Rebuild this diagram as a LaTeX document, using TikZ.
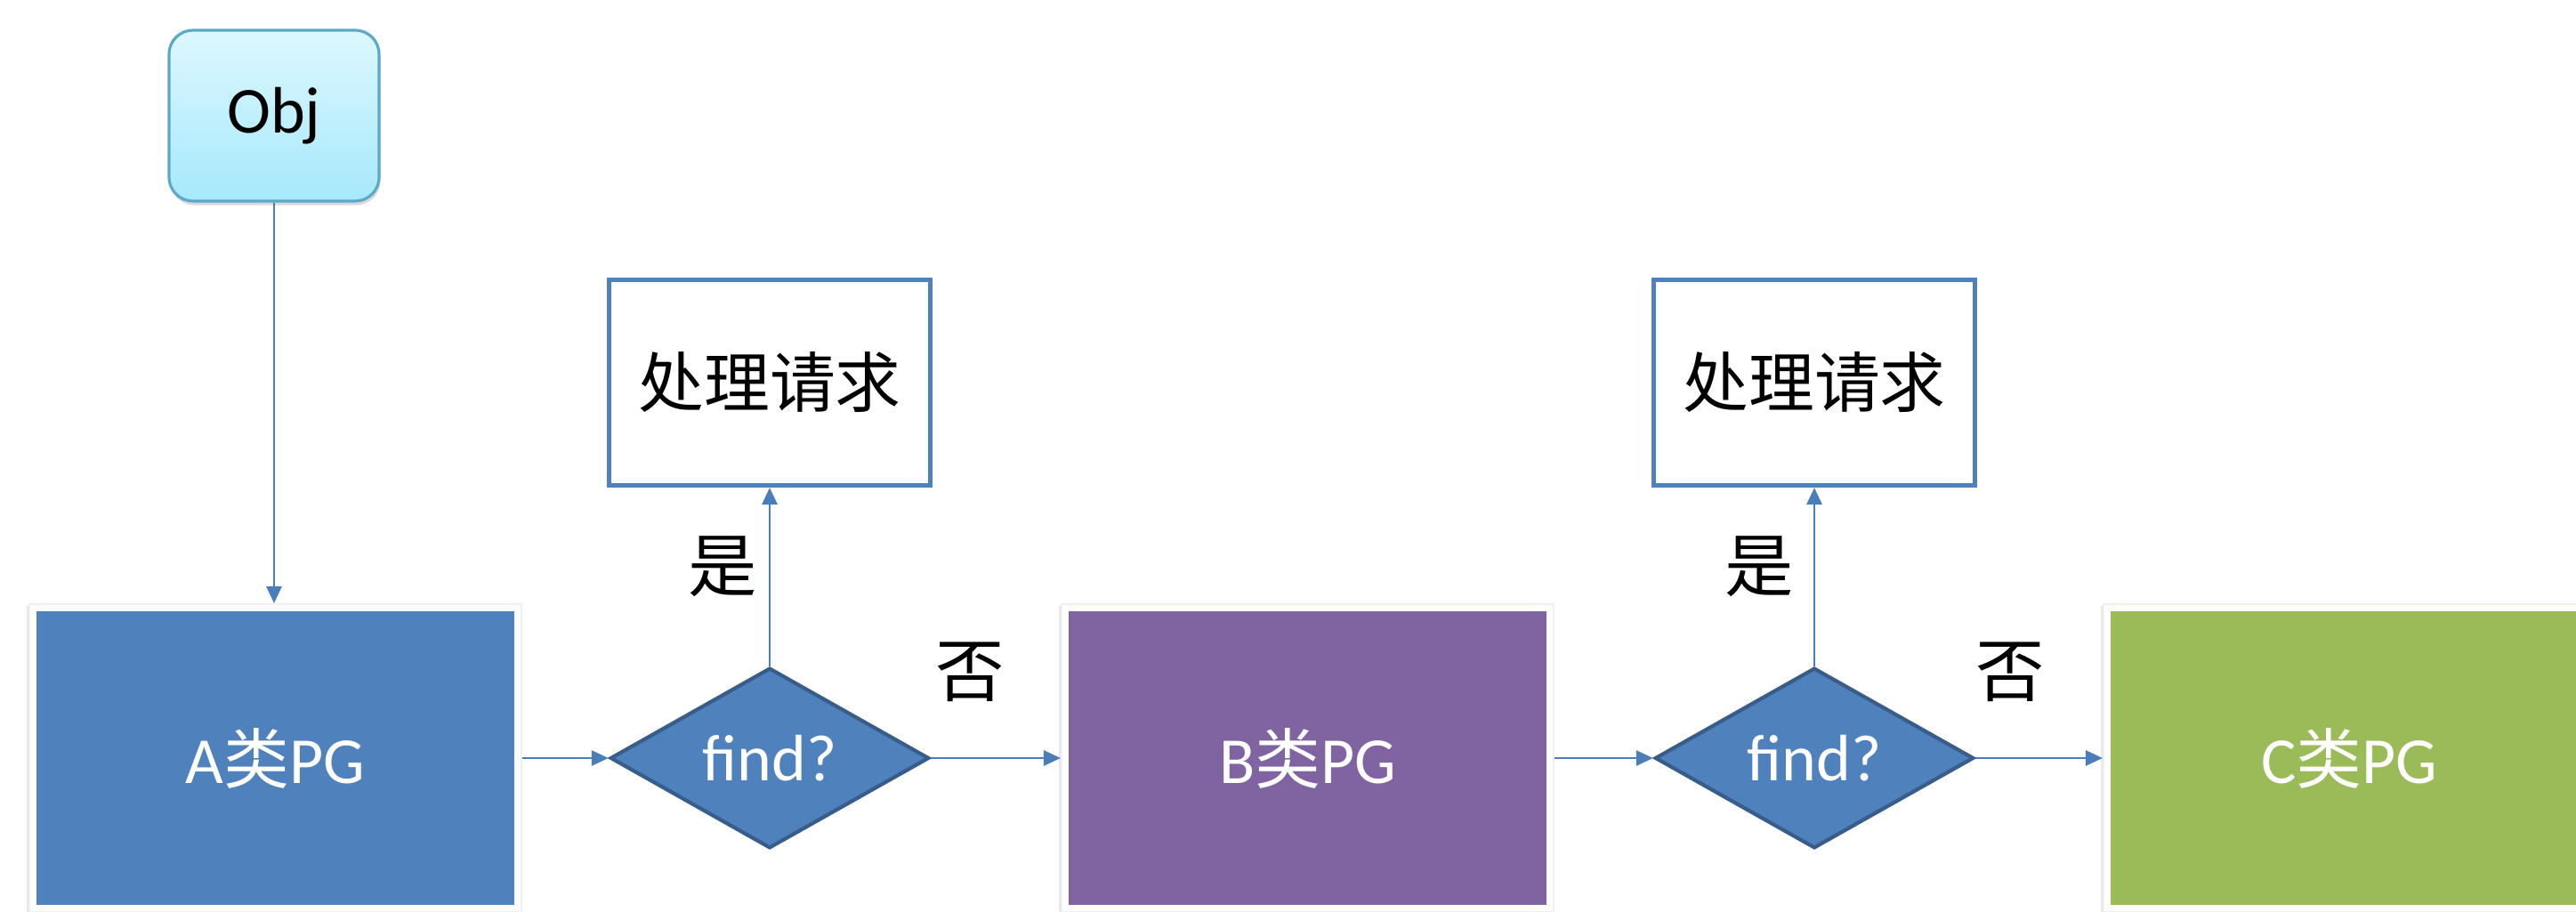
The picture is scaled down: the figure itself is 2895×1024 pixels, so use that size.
\documentclass[tikz,border=0pt]{standalone}
\usepackage{fontspec}
\setmainfont{Carlito}
\newfontfamily\cjk{Noto Sans CJK SC}
\usetikzlibrary{arrows.meta,shapes.geometric,shadows}
\definecolor{ablue}{HTML}{4F81BD}
\definecolor{bpurple}{HTML}{8064A2}
\definecolor{cgreen}{HTML}{9BBB59}
\definecolor{dborder}{HTML}{385D8A}
\definecolor{lineblue}{HTML}{4A7EBB}
\definecolor{objtop}{HTML}{DDF7FE}
\definecolor{objbot}{HTML}{A6E9FC}
\definecolor{objborder}{HTML}{5AA9C9}
\begin{document}
\begin{tikzpicture}[x=0.01cm,y=-0.01cm,
  objbox/.style={rectangle, rounded corners=0.27cm, top color=objtop, bottom color=objbot,
    draw=objborder, line width=0.9pt, minimum width=2.36cm, minimum height=1.92cm, inner sep=0,
    font=\fontsize{21}{25}\selectfont,
    drop shadow={shadow xshift=0.015cm, shadow yshift=-0.045cm, opacity=0.3}},
  pgframe/.style={rectangle, fill=white, draw=black!6, line width=0.5pt,
    minimum width=5.53cm, minimum height=3.46cm, inner sep=0,
    drop shadow={shadow xshift=-0.025cm, shadow yshift=-0.02cm, opacity=0.18}},
  pgfill/.style={rectangle, fill=#1, draw=none, minimum width=5.37cm, minimum height=3.30cm,
    inner sep=0, text=white, font=\fontsize{21}{25}\selectfont},
  decision/.style={diamond, fill=ablue, draw=dborder, line width=1.2pt, minimum width=3.58cm,
    minimum height=1.92cm, inner sep=0, text=white, font=\fontsize{21}{25}\selectfont},
  procbox/.style={rectangle, fill=white, draw=ablue, line width=1.4pt, minimum width=3.6cm,
    minimum height=2.31cm, inner sep=0, font=\cjk\fontsize{21}{25}\selectfont},
  lbl/.style={inner sep=0, font=\cjk\fontsize{22}{26}\selectfont},
  conn/.style={draw=lineblue, line width=0.8pt, -{Triangle[length=0.19cm,width=0.17cm]}}]
\useasboundingbox (0,0) rectangle (2895,1024);

% Obj
\node[objbox] (obj) at (308,130) {Obj};

% PG frames
\node[pgframe] (Af) at (309.5,852) {};
\node[pgfill=ablue] (A) at (309.5,852) {A{\cjk 类}PG};
\node[pgframe] (Bf) at (1469.5,852) {};
\node[pgfill=bpurple] (B) at (1469.5,852) {B{\cjk 类}PG};
\node[pgframe] (Cf) at (2640.5,852) {};
\node[pgfill=cgreen] (C) at (2640.5,852) {C{\cjk 类}PG};

% decisions
\node[decision] (d1) at (865,852) {find?};
\node[decision] (d2) at (2039,852) {find?};

% process boxes
\node[procbox] (p1) at (865,430) {处理请求};
\node[procbox] (p2) at (2039,430) {处理请求};

% labels
\node[lbl] (yes1) at (812,637) {是};
\node[lbl] (no1) at (1090,755) {否};
\node[lbl] (yes2) at (1977,637) {是};
\node[lbl] (no2) at (2259,755) {否};

% connectors
\draw[conn] (obj.south) -- (obj.south |- Af.north);
\draw[conn] (Af.east) -- (d1.west);
\draw[conn] (d1.north) -- (p1.south);
\draw[conn] (d1.east) -- (Bf.west);
\draw[conn] (Bf.east) -- (d2.west);
\draw[conn] (d2.north) -- (p2.south);
\draw[conn] (d2.east) -- (Cf.west);
\end{tikzpicture}
\end{document}
